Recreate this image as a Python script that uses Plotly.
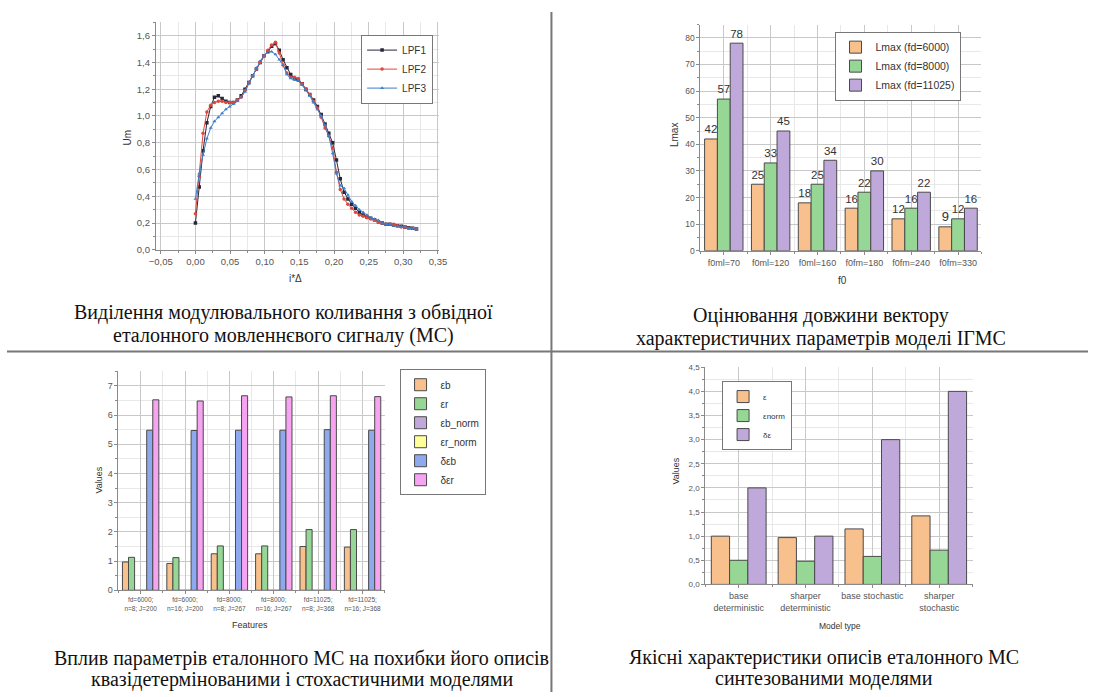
import plotly.graph_objects as go

W, H = 1096, 697

# ---------------- Panel 1: modulating oscillation ----------------
i_delta = [0.0, 0.0055, 0.011, 0.0165, 0.022, 0.0275, 0.033, 0.0385, 0.044, 0.0495,
           0.055, 0.0605, 0.066, 0.0715, 0.077, 0.0825, 0.088, 0.0935, 0.099, 0.1045,
           0.11, 0.1155, 0.121, 0.1265, 0.132, 0.1375, 0.143, 0.1485, 0.154, 0.1595,
           0.165, 0.1705, 0.176, 0.1815, 0.187, 0.1925, 0.198, 0.2035, 0.209, 0.2145,
           0.22, 0.2255, 0.231, 0.2365, 0.242, 0.2475, 0.253, 0.2585, 0.264, 0.2695,
           0.275, 0.2805, 0.286, 0.2915, 0.297, 0.3025, 0.308, 0.3135, 0.319]
lpf1 = [0.20, 0.47, 0.74, 0.95, 1.07, 1.14, 1.15, 1.13, 1.11, 1.10,
        1.10, 1.12, 1.15, 1.20, 1.25, 1.30, 1.35, 1.40, 1.45, 1.48,
        1.52, 1.54, 1.49, 1.42, 1.36, 1.31, 1.28, 1.27, 1.24, 1.20,
        1.16, 1.12, 1.07, 1.01, 0.94, 0.87, 0.80, 0.67, 0.53, 0.43,
        0.38, 0.34, 0.31, 0.28, 0.26, 0.245, 0.235, 0.225, 0.21, 0.20,
        0.19, 0.19, 0.185, 0.18, 0.175, 0.17, 0.165, 0.16, 0.155]
lpf2 = [0.27, 0.55, 0.87, 1.03, 1.08, 1.10, 1.11, 1.11, 1.10, 1.10,
        1.10, 1.12, 1.14, 1.19, 1.25, 1.30, 1.35, 1.40, 1.45, 1.49,
        1.53, 1.55, 1.47, 1.38, 1.32, 1.29, 1.29, 1.28, 1.24, 1.20,
        1.16, 1.11, 1.06, 0.99, 0.91, 0.85, 0.76, 0.58, 0.45, 0.38,
        0.34, 0.31, 0.28, 0.26, 0.25, 0.24, 0.23, 0.22, 0.21, 0.20,
        0.19, 0.19, 0.19, 0.18, 0.17, 0.17, 0.16, 0.16, 0.155]
lpf3 = [0.38, 0.57, 0.71, 0.83, 0.91, 0.96, 0.99, 1.02, 1.05, 1.07,
        1.09, 1.11, 1.14, 1.18, 1.24, 1.30, 1.36, 1.41, 1.45, 1.48,
        1.48, 1.46, 1.42, 1.38, 1.31, 1.28, 1.27, 1.26, 1.23, 1.19,
        1.15, 1.10, 1.05, 1.00, 0.93, 0.85, 0.72, 0.57, 0.48, 0.46,
        0.41, 0.36, 0.33, 0.30, 0.28, 0.26, 0.24, 0.23, 0.22, 0.20,
        0.19, 0.19, 0.18, 0.18, 0.17, 0.17, 0.16, 0.16, 0.15]
lpf_names = ["LPF1", "LPF2", "LPF3"]

# ---------------- Panel 2: Lmax ----------------
f0_labels = ["f0ml=70", "f0ml=120", "f0ml=160", "f0fm=180", "f0fm=240", "f0fm=330"]
lmax_6000 = [42, 25, 18, 16, 12, 9]
lmax_8000 = [57, 33, 25, 22, 16, 12]
lmax_11025 = [78, 45, 34, 30, 22, 16]
lmax_names = ["Lmax (fd=6000)", "Lmax (fd=8000)", "Lmax (fd=11025)"]

# ---------------- Panel 3: errors vs parameters ----------------
feature_labels = ["fd=6000;<br>n=8; J=200", "fd=6000;<br>n=16; J=200",
                  "fd=8000;<br>n=8; J=267", "fd=8000;<br>n=16; J=267",
                  "fd=11025;<br>n=8; J=368", "fd=11025;<br>n=16; J=368"]
eps_b = [0.97, 0.92, 1.25, 1.25, 1.50, 1.48]
eps_r = [1.13, 1.12, 1.52, 1.52, 2.08, 2.08]
eps_b_norm = [0, 0, 0, 0, 0, 0]
eps_r_norm = [0, 0, 0, 0, 0, 0]
d_eps_b = [5.48, 5.47, 5.48, 5.48, 5.50, 5.48]
d_eps_r = [6.52, 6.48, 6.66, 6.62, 6.66, 6.63]
feature_names = ["εb", "εr", "εb_norm", "εr_norm", "δεb", "δεr"]

# ---------------- Panel 4: model quality ----------------
model_labels = ["base<br>deterministic", "sharper<br>deterministic",
                "base stochastic", "sharper<br>stochastic"]
eps_vals = [1.00, 0.97, 1.15, 1.42]
eps_norm_vals = [0.50, 0.48, 0.58, 0.71]
d_eps_vals = [2.00, 1.00, 3.00, 4.00]
model_names = ["ε", "εnorm", "δε"]

captions = [
    ["Виділення модулювального коливання з обвідної", "еталонного мовленнєвого сигналу (МС)"],
    ["Оцінювання довжини вектору", "характеристичних параметрів моделі ІГМС"],
    ["Вплив параметрів еталонного МС на похибки його описів", "квазідетермінованими і стохастичними моделями"],
    ["Якісні характеристики описів еталонного МС", "синтезованими моделями"],
]

# ---------------- styling ----------------
ORANGE = "#F8C08C"
GREEN = "#96D796"
PURPLE = "#BFA8DA"
YELLOW = "#FFFF99"
BLUE = "#8EA9EE"
PINK = "#F6A3F2"
OUTLINE = "#4a4a4a"
SANS = "Liberation Sans"
SERIF = "Liberation Serif"


def px(x):
    return x / W


def py(y):
    return 1 - y / H


fig = go.Figure()

# Panel 1 lines
for name, ys, col, sym in zip(lpf_names, [lpf1, lpf2, lpf3],
                              ["#26283a", "#e0473c", "#3b7fcb"],
                              ["square", "circle", "triangle-up"]):
    fig.add_trace(go.Scatter(x=i_delta, y=ys, name=name, mode="lines+markers",
                             line=dict(color=col, width=1),
                             marker=dict(color=col, size=3.5, symbol=sym),
                             xaxis="x", yaxis="y", legend="legend"))

# Panel 2 bars
pos2 = list(range(len(f0_labels)))
for name, vals, col in zip(lmax_names, [lmax_6000, lmax_8000, lmax_11025],
                           [ORANGE, GREEN, PURPLE]):
    fig.add_trace(go.Bar(x=pos2, y=vals, name=name, marker=dict(color=col, line=dict(color=OUTLINE, width=1)),
                         text=vals, textposition="outside", cliponaxis=False,
                         textfont=dict(size=13, color="#333", family=SANS),
                         xaxis="x2", yaxis="y2", legend="legend2"))

# Panel 3 bars
pos3 = list(range(len(feature_labels)))
for name, vals, col in zip(feature_names,
                           [eps_b, eps_r, eps_b_norm, eps_r_norm, d_eps_b, d_eps_r],
                           [ORANGE, GREEN, PURPLE, YELLOW, BLUE, PINK]):
    fig.add_trace(go.Bar(x=pos3, y=vals, name=name,
                         marker=dict(color=col, line=dict(color=OUTLINE, width=1)),
                         xaxis="x3", yaxis="y3", legend="legend3"))

# Panel 4 bars
pos4 = list(range(len(model_labels)))
for name, vals, col in zip(model_names, [eps_vals, eps_norm_vals, d_eps_vals],
                           [ORANGE, GREEN, PURPLE]):
    fig.add_trace(go.Bar(x=pos4, y=vals, name=name,
                         marker=dict(color=col, line=dict(color=OUTLINE, width=1)),
                         xaxis="x4", yaxis="y4", legend="legend4"))


def axis(domain, rng, fsize, **kw):
    d = dict(domain=domain, range=rng, showline=True, linecolor="#8a8a8a", linewidth=1,
             ticks="outside", ticklen=3, tickcolor="#8a8a8a",
             showgrid=True, gridcolor="#c8c8c8", gridwidth=1, zeroline=False,
             tickfont=dict(family=SANS, size=fsize, color="#555"))
    d.update(kw)
    return d


minor_grid = dict(showgrid=True, gridcolor="#e8e8e8", ticks="outside", ticklen=2, tickcolor="#8a8a8a")

layout = dict(
    width=W, height=H, margin=dict(l=0, r=0, t=0, b=0),
    paper_bgcolor="white", plot_bgcolor="white",
    separators=", ", barmode="group", bargap=0.18, bargroupgap=0,
    xaxis=axis([px(151), px(438)], [-0.057, 0.3515], 9.5, anchor="y",
               tickvals=[-0.05, 0, 0.05, 0.1, 0.15, 0.2, 0.25, 0.3, 0.35], tickformat=".2f",
               minor=dict(dtick=0.025, **minor_grid)),
    yaxis=axis([py(249), py(18.5)], [0, 1.7], 9.5, anchor="x", dtick=0.2, tickformat=".1f",
               minor=dict(dtick=0.1, **minor_grid)),
    xaxis2=axis([px(703), px(988)], [-0.5, 5.5], 9, anchor="y2",
                tickvals=pos2, ticktext=f0_labels, minor=dict(dtick=0.5, tick0=-0.5, **minor_grid)),
    yaxis2=axis([py(250), py(20.8)], [0, 85], 8.5, anchor="x2", dtick=10,
                minor=dict(dtick=5, **minor_grid)),
    xaxis3=axis([px(113), px(383)], [-0.5, 5.5], 6.5, anchor="y3",
                tickvals=pos3, ticktext=feature_labels, minor=dict(dtick=0.5, tick0=-0.5, **minor_grid)),
    yaxis3=axis([py(594), py(372)], [0, 7.5], 9, anchor="x3", dtick=1,
                minor=dict(dtick=0.5, **minor_grid)),
    xaxis4=axis([px(708), px(979)], [-0.5, 3.5], 9, anchor="y4",
                tickvals=pos4, ticktext=model_labels, minor=dict(dtick=0.5, tick0=-0.5, **minor_grid)),
    yaxis4=axis([py(588), py(368)], [0, 4.5], 8, anchor="x4", dtick=0.5, tickformat=".1f",
                minor=dict(dtick=0.25, **minor_grid)),
)

leg_common = dict(xanchor="left", yanchor="top", bgcolor="white", bordercolor="#777",
                  borderwidth=1, tracegroupgap=0, itemwidth=30)
layout["legend"] = dict(x=px(359), y=py(31), font=dict(family=SANS, size=10, color="#333"), **leg_common)
layout["legend2"] = dict(x=px(839), y=py(28), font=dict(family=SANS, size=10.5, color="#333"), **leg_common)
layout["legend3"] = dict(x=px(398), y=py(370), font=dict(family=SANS, size=10, color="#333"), **leg_common)
layout["legend4"] = dict(x=px(725), y=py(382), font=dict(family=SANS, size=8, color="#333"), **leg_common)

fig.update_layout(**layout)

# axis titles
ax_titles = [
    ("i*Δ", 293, 278, 0, 10), ("Um", 122, 135, -90, 10),
    ("f0", 847, 280, 0, 10), ("Lmax", 677, 133, -90, 10),
    ("Features", 246, 629, 0, 9), ("Values", 93, 482, -90, 9),
    ("Model type", 845, 630, 0, 8.5), ("Values", 678, 473, -90, 9),
]
for txt, x, y, ang, fs in ax_titles:
    fig.add_annotation(text=txt, x=px(x), y=py(y), xref="paper", yref="paper",
                       showarrow=False, textangle=ang, xanchor="center", yanchor="middle",
                       font=dict(family=SANS, size=fs, color="#333"))

# captions (one annotation per line)
cap_pos = [(280, [313, 336]), (825, [316, 339]), (299, [663, 684]), (828, [662, 683])]
for lines, (x, ys) in zip(captions, cap_pos):
    for txt, y in zip(lines, ys):
        fig.add_annotation(text=txt, x=px(x), y=py(y), xref="paper", yref="paper",
                           showarrow=False, xanchor="center", yanchor="middle",
                           font=dict(family=SERIF, size=20, color="#111"))

# divider lines
fig.add_shape(type="line", xref="paper", yref="paper", x0=px(552), x1=px(552), y0=py(8), y1=0,
              line=dict(color="#777", width=2))
fig.add_shape(type="line", xref="paper", yref="paper", x0=0, x1=1, y0=py(352), y1=py(352),
              line=dict(color="#777", width=2))

fig.write_html("out.html")
